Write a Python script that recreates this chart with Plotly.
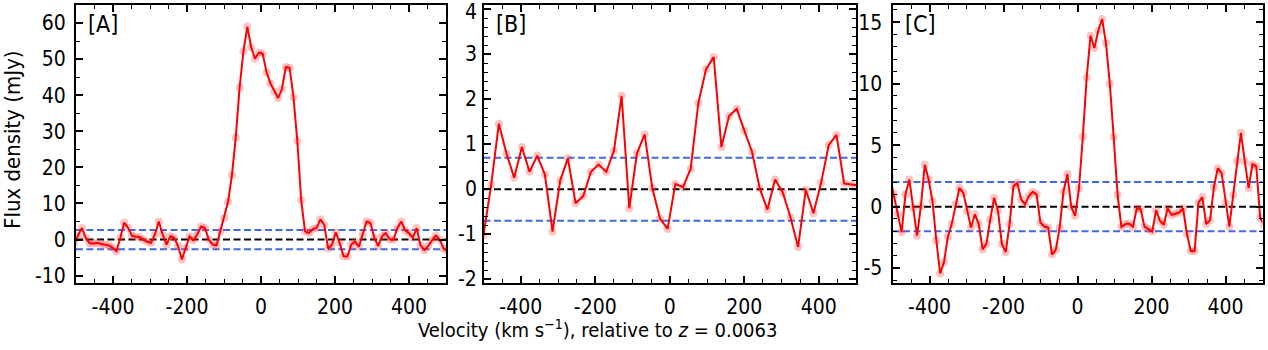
import numpy as np
import plotly.graph_objects as go

# ---------------- data ----------------
# Panel A: channel grid (km/s) and flux density (mJy)
a_v_start, a_dv = -505.0, 10.4
a_flux = [-1.0, 1.0, 3.2, 0.5, -1.0, -1.1, -0.9, -1.2, -1.4, -1.6,
          -2.2, -3.2, 0.5, 4.7, 3.3, 1.1, 0.8, 0.7, 0.0, -0.6,
          -0.9, 1.5, 5.0, 1.4, -1.4, 0.9, 0.5, -1.8, -5.5, -2.3,
          0.9, -0.2, 1.4, 3.6, 3.2, 0.0, -1.4, -1.6, 2.3, 5.9,
          10.5, 17.8, 28.3, 42.1, 52.2, 59.0, 53.3, 50.1, 51.8, 51.5,
          46.3, 43.3, 41.0, 39.2, 41.7, 47.8, 47.6, 39.4, 27.3, 10.9,
          2.3, 1.8, 2.9, 3.2, 5.6, 4.1, -2.5, -1.4, 2.0, -0.9,
          -4.6, -4.7, -1.4, -0.5, -2.0, 1.4, 5.0, 4.6, 0.5, -1.8,
          0.9, 1.8, 0.0, 0.0, 3.2, 5.0, 2.6, 1.8, 0.5, 3.2,
          -1.6, -2.9, -1.8, -0.2, 1.1, 0.0, -2.5, -3.0]
a_rms = 2.65

# Panel B
b_v_start, b_dv = -500.0, 20.6
b_flux = [-1.02, 0.10, 1.46, 0.79, 0.26, 0.94, 0.39, 0.75, 0.33, -0.94,
          0.20, 0.69, -0.31, -0.15, 0.39, 0.55, 0.39, 0.86, 2.08, -0.42,
          0.80, 1.22, 0.03, -0.65, -0.88, 0.12, 0.05, 0.46, 1.92, 2.67,
          2.94, 0.94, 1.63, 1.79, 1.30, 0.83, 0.02, -0.45, 0.22, -0.07,
          -0.62, -1.28, -0.01, -0.53, 0.15, 0.99, 1.21, 0.13, 0.11, 0.08]
b_rms = 0.70

# Panel C
c_v_start, c_dv = -506.6, 10.42
c_flux = [2.4, 1.0, -0.6, -2.09, 1.0, 2.2, -0.08, -2.36, 0.05, 3.4,
          2.2, 0.46, -2.76, -5.43, -4.5, -2.44, -1.42, 0.19, 1.53, 1.12,
          -0.35, -1.69, -0.62, -1.42, -3.48, -3.03, -1.02, 0.72, -0.35, -3.03,
          -3.7, -1.42, 1.66, 1.93, 0.59, 0.19, 0.86, 1.2, 1.0, -1.29,
          -1.63, -1.69, -3.9, -3.5, -1.69, 1.26, 2.65, -0.03, -0.75, 1.47,
          5.68, 10.5, 13.9, 12.9, 14.3, 15.26, 13.3, 10.0, 5.68, 0.99,
          -1.65, -1.42, -1.37, -1.63, -0.13, -0.21, -1.63, -1.82, -2.03, -0.29,
          -1.15, -1.47, -0.13, -0.67, -0.56, -0.48, -0.13, -2.22, -3.61, -3.61,
          0.32, 0.78, -1.42, -1.1, 1.58, 3.13, 2.73, 0.32, -1.63, 0.94,
          3.72, 6.0, 3.72, 1.5, 3.45, 3.27, -0.9, -1.47]
c_rms = 2.0

panel_labels = ["[A]", "[B]", "[C]"]

x_tick_vals = [-400, -200, 0, 200, 400]
x_tick_text = ["-400", "-200", "0", "200", "400"]
a_y_tick_vals = [-10, 0, 10, 20, 30, 40, 50, 60]
a_y_tick_text = ["-10", "0", "10", "20", "30", "40", "50", "60"]
b_y_tick_vals = [-2, -1, 0, 1, 2, 3, 4]
b_y_tick_text = ["-2", "-1", "0", "1", "2", "3", "4"]
c_y_tick_vals = [-5, 0, 5, 10, 15]
c_y_tick_text = ["-5", "0", "5", "10", "15"]

y_title = "Flux density (mJy)"
x_title = "Velocity (km s<sup>\u22121</sup>), relative to <i>z</i> = 0.0063"

# ---------------- figure ----------------
FONT = "DejaVu Sans Condensed, DejaVu Sans, sans-serif"
TICK_SIZE = 21
W, H = 1268, 350

panels = [
    dict(v0=a_v_start, dv=a_dv, flux=a_flux, rms=a_rms, yr=[-12, 65],
         yt=(a_y_tick_vals, a_y_tick_text), minor=5, dom=[76, 446], ann_labels=False),
    # panel B's top label sits very close to the frame; its y tick labels are
    # written as text annotations at the tick values so none gets auto-hidden
    dict(v0=b_v_start, dv=b_dv, flux=b_flux, rms=b_rms, yr=[-2.08, 4.1],
         yt=(b_y_tick_vals, b_y_tick_text), minor=0.2, dom=[483.5, 856], ann_labels=True),
    dict(v0=c_v_start, dv=c_dv, flux=c_flux, rms=c_rms, yr=[-6.2, 16.4],
         yt=(c_y_tick_vals, c_y_tick_text), minor=1, dom=[892.5, 1262.5], ann_labels=False),
]

fig = go.Figure()
ydom = [(H - 287) / H, (H - 5) / H]

for i, p in enumerate(panels):
    n = i + 1
    xa = "x" if n == 1 else f"x{n}"
    ya = "y" if n == 1 else f"y{n}"
    v = p["v0"] + p["dv"] * np.arange(len(p["flux"]))
    # translucent markers
    fig.add_trace(go.Scatter(x=v, y=p["flux"], mode="markers", xaxis=xa, yaxis=ya,
                             marker=dict(size=8, color="rgba(255,60,60,0.3)", line=dict(width=0)),
                             showlegend=False, hoverinfo="skip"))
    fig.add_trace(go.Scatter(x=v, y=p["flux"], mode="lines", xaxis=xa, yaxis=ya,
                             line=dict(color="#ff0000", width=2),
                             showlegend=False))
    for yv, col in [(0, "black"), (p["rms"], "#4169e1"), (-p["rms"], "#4169e1")]:
        fig.add_shape(type="line", xref=f"{xa} domain", yref=ya, x0=0, x1=1, y0=yv, y1=yv,
                      line=dict(color=col, width=2, dash="7px,3.5px"), layer="below")

    common = dict(showline=True, linecolor="black", linewidth=2, mirror="allticks",
                  ticks="inside", ticklen=7, tickwidth=1.5, tickcolor="black",
                  showgrid=False, zeroline=False, ticklabeloverflow="allow",
                  tickfont=dict(family=FONT, size=TICK_SIZE, color="black"))
    fig.update_layout(**{
        ("xaxis" if n == 1 else f"xaxis{n}"): dict(
            domain=[p["dom"][0] / W, p["dom"][1] / W], range=[-500, 500], anchor=ya,
            tickmode="array", tickvals=x_tick_vals, ticktext=x_tick_text,
            minor=dict(ticks="inside", ticklen=4, dtick=50, tick0=0, tickcolor="black", tickwidth=1.2),
            ticklabelstandoff=4, **common),
        ("yaxis" if n == 1 else f"yaxis{n}"): dict(
            domain=ydom, range=p["yr"], anchor=xa,
            tickmode="array", tickvals=p["yt"][0], ticktext=p["yt"][1],
            showticklabels=not p["ann_labels"],
            minor=dict(ticks="inside", ticklen=4, dtick=p["minor"], tick0=0, tickcolor="black", tickwidth=1.2),
            ticklabelstandoff=4, **common),
    })
    if p["ann_labels"]:
        top_val = max(p["yt"][0])
        for tv, tt in zip(*p["yt"]):
            fig.add_annotation(text=tt, xref=f"{xa} domain", yref=ya, x=0, y=tv,
                               xanchor="right", yanchor="middle", xshift=-5,
                               yshift=-3 if tv == top_val else 0, showarrow=False,
                               font=dict(family=FONT, size=TICK_SIZE, color="black"))
    fig.add_annotation(text=panel_labels[i], xref=f"{xa} domain", yref=f"{ya} domain",
                       x=0.028, y=0.985, xanchor="left", yanchor="top", showarrow=False,
                       font=dict(family=FONT, size=23, color="black"))

fig.add_annotation(text=y_title, xref="paper", yref="paper", x=13 / W, y=(H - 142) / H,
                   textangle=-90, showarrow=False, xanchor="center", yanchor="middle",
                   font=dict(family=FONT, size=22, color="black"))
fig.add_annotation(text=x_title, xref="paper", yref="paper", x=597 / W, y=(H - 334) / H,
                   showarrow=False, xanchor="center", yanchor="middle",
                   font=dict(family=FONT, size=20, color="black"))

fig.update_layout(width=W, height=H, margin=dict(l=0, r=0, t=0, b=0),
                  paper_bgcolor="white", plot_bgcolor="white", showlegend=False)

fig.write_html("out.html")
